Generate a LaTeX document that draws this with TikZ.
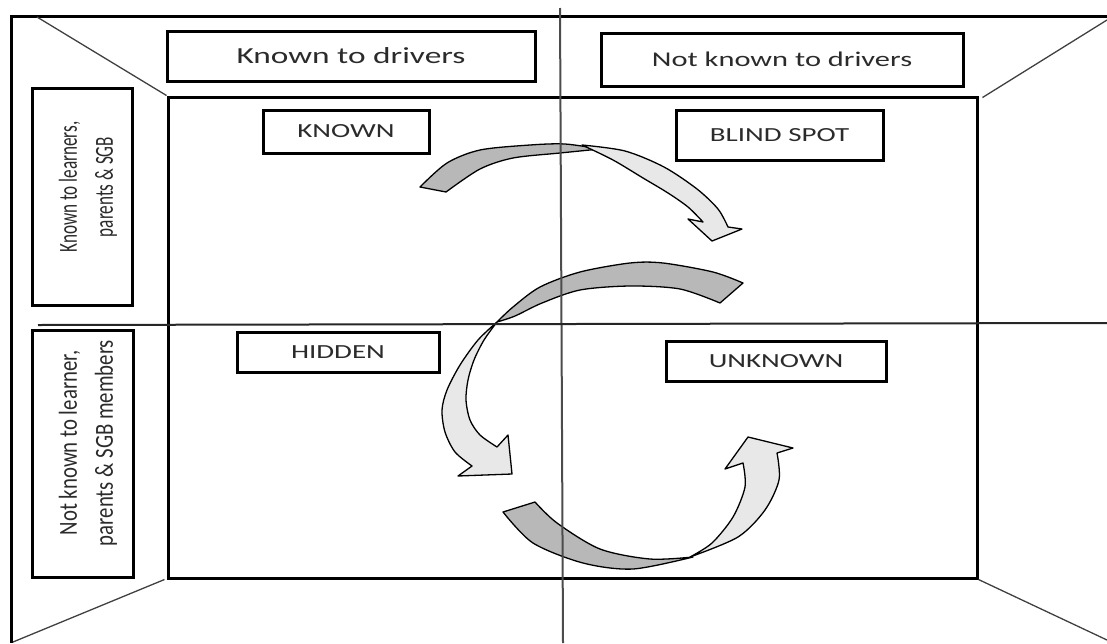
\documentclass[tikz,border=0pt]{standalone}
\usepackage{fontspec}
\setmainfont{Carlito}
% wide face for horizontal labels, narrow faces for the rotated side labels
\newfontfamily\headfont[FakeStretch=1.45]{Carlito}
\newfontfamily\sidefontA[FakeStretch=0.66]{Carlito}
\newfontfamily\sidefontB[FakeStretch=0.8]{Carlito}
\definecolor{bandDark}{HTML}{B8B8B8}
\definecolor{bandLight}{HTML}{E8E8E8}
\definecolor{ink}{HTML}{2B2B2B}

\begin{document}
\begin{tikzpicture}[x=1pt,y=-1pt,
  frame/.style={line width=3pt, black},
  slant/.style={line width=1.3pt, black!75},
  axis/.style={line width=2pt, black!85},
  labelbox/.style={draw=black, line width=3pt, inner sep=0pt, text=ink},
  sidetext/.style={rotate=90, align=center, inner sep=0pt, text=ink},
  darkband/.style={fill=bandDark, draw=black, line width=1.3pt, line join=round},
  lightband/.style={fill=bandLight, draw=black, line width=1.3pt, line join=round},
]
\useasboundingbox (0,0) rectangle (1107,643);

% ---- curved block arrows (tail face dark, arrow face light) ----
% KNOWN -> BLIND SPOT
\filldraw[darkband] plot[smooth] coordinates {(420,187) (447,163) (480,150) (530,145) (565,144) (600,149)}
  -- plot[smooth] coordinates {(600,149) (560,153) (513,158) (480,169) (446,192)} -- cycle;
\filldraw[lightband] plot[smooth] coordinates {(582,145) (625,151) (664,167) (697,189) (718,209) (728,227)}
  -- (742,229) -- (712,241) -- (688,219) -- (703,222)
  -- plot[smooth] coordinates {(703,222) (688,207) (668,193) (643,178) (613,160) (582,145)} -- cycle;

% BLIND SPOT -> HIDDEN
\filldraw[darkband] plot[smooth] coordinates {(743,283) (713,272) (663,263) (630,263) (580,272) (540,287) (513,307) (497,322)}
  -- plot[smooth] coordinates {(497,322) (515,316) (542,303) (580,290) (630,286) (680,289) (720,303)} -- cycle;
\filldraw[lightband] plot[smooth] coordinates {(497,322) (478,340) (460,365) (447,390) (442,410) (445,432) (455,452) (472,466)}
  -- (458,476) -- (512,474) -- (508,435) -- (497,447)
  -- plot[smooth] coordinates {(497,447) (480,435) (470,420) (466,400) (468,380) (474,360) (484,340) (497,322)} -- cycle;

% HIDDEN -> UNKNOWN
\filldraw[darkband] plot[smooth] coordinates {(503,512) (533,543) (583,563) (633,569) (693,557)}
  -- plot[smooth] coordinates {(693,557) (650,559) (600,549) (557,523) (535,502)} -- cycle;
\filldraw[lightband] plot[smooth] coordinates {(690,557) (738,537) (765,510) (779,480) (777,453)}
  -- (793,448) -- (748,437) -- (725,469) -- (743,463)
  -- plot[smooth] coordinates {(743,463) (745,487) (733,517) (712,543) (690,557)} -- cycle;

% ---- frame, inner window and perspective edges ----
\coordinate (otl) at (11,16);
\coordinate (otr) at (1107,16);
\coordinate (obl) at (11,643);
\draw[frame] (otr) -- (otl) -- (obl);

\node[draw=black, line width=3pt, minimum width=809, minimum height=481, inner sep=0pt] (win) at (572.5,337.5) {};

\coordinate (pTL) at (37,17);
\coordinate (pTR) at (1107,20);
\coordinate (pBL) at (13,642);
\coordinate (pBR) at (1107,640);
\draw[slant] (pTL) -- (win.north west);
\draw[slant] (pTR) -- ([xshift=4pt,yshift=-2pt]win.north east);
\draw[slant] (pBL) -- ([xshift=-2pt]win.south west);
\draw[slant] (pBR) -- (win.south east);

% ---- quadrant axes ----
\coordinate (vTop) at (560,8);
\coordinate (vBot) at (563,643);
\coordinate (hL) at (38,325);
\coordinate (hR) at (1107,323);
\draw[axis, black!70] (vTop) -- (vBot);
\draw[axis] (hL) -- (hR);

% ---- column headings ----
\node[labelbox, minimum width=368, minimum height=50, font={\headfont\fontsize{23}{28}\selectfont}]
  (known) at (351,56) {Known to drivers};
\node[labelbox, minimum width=362, minimum height=53, font={\headfont\fontsize{21}{26}\selectfont}]
  (notknown) at (782,59.5) {Not known to drivers};

% ---- row headings ----
\node[labelbox, minimum width=100, minimum height=217] (rowA) at (82,196.5) {};
\node[sidetext, font={\sidefontA\fontsize{26}{36}\selectfont}] (rowAtext) at (88,187)
  {Known to learners,\\parents \& SGB};
\node[labelbox, minimum width=101, minimum height=247] (rowB) at (82.5,453.5) {};
\node[sidetext, font={\sidefontB\fontsize{26}{36}\selectfont}] (rowBtext) at (88,443)
  {Not known to learner,\\parents \& SGB members};

% ---- quadrant names ----
\node[labelbox, minimum width=166, minimum height=43, font={\headfont\fontsize{20}{24}\selectfont}]
  (qKnown) at (346,131.5) {KNOWN};
\node[labelbox, minimum width=207, minimum height=50, font={\headfont\fontsize{20}{24}\selectfont}]
  (qBlind) at (779.5,135) {BLIND SPOT};
\node[labelbox, minimum width=202, minimum height=40, font={\headfont\fontsize{20}{24}\selectfont}]
  (qHidden) at (338,352) {HIDDEN};
\node[labelbox, minimum width=220, minimum height=40, font={\headfont\fontsize{20}{24}\selectfont}]
  (qUnknown) at (776,361) {UNKNOWN};
\end{tikzpicture}
\end{document}
